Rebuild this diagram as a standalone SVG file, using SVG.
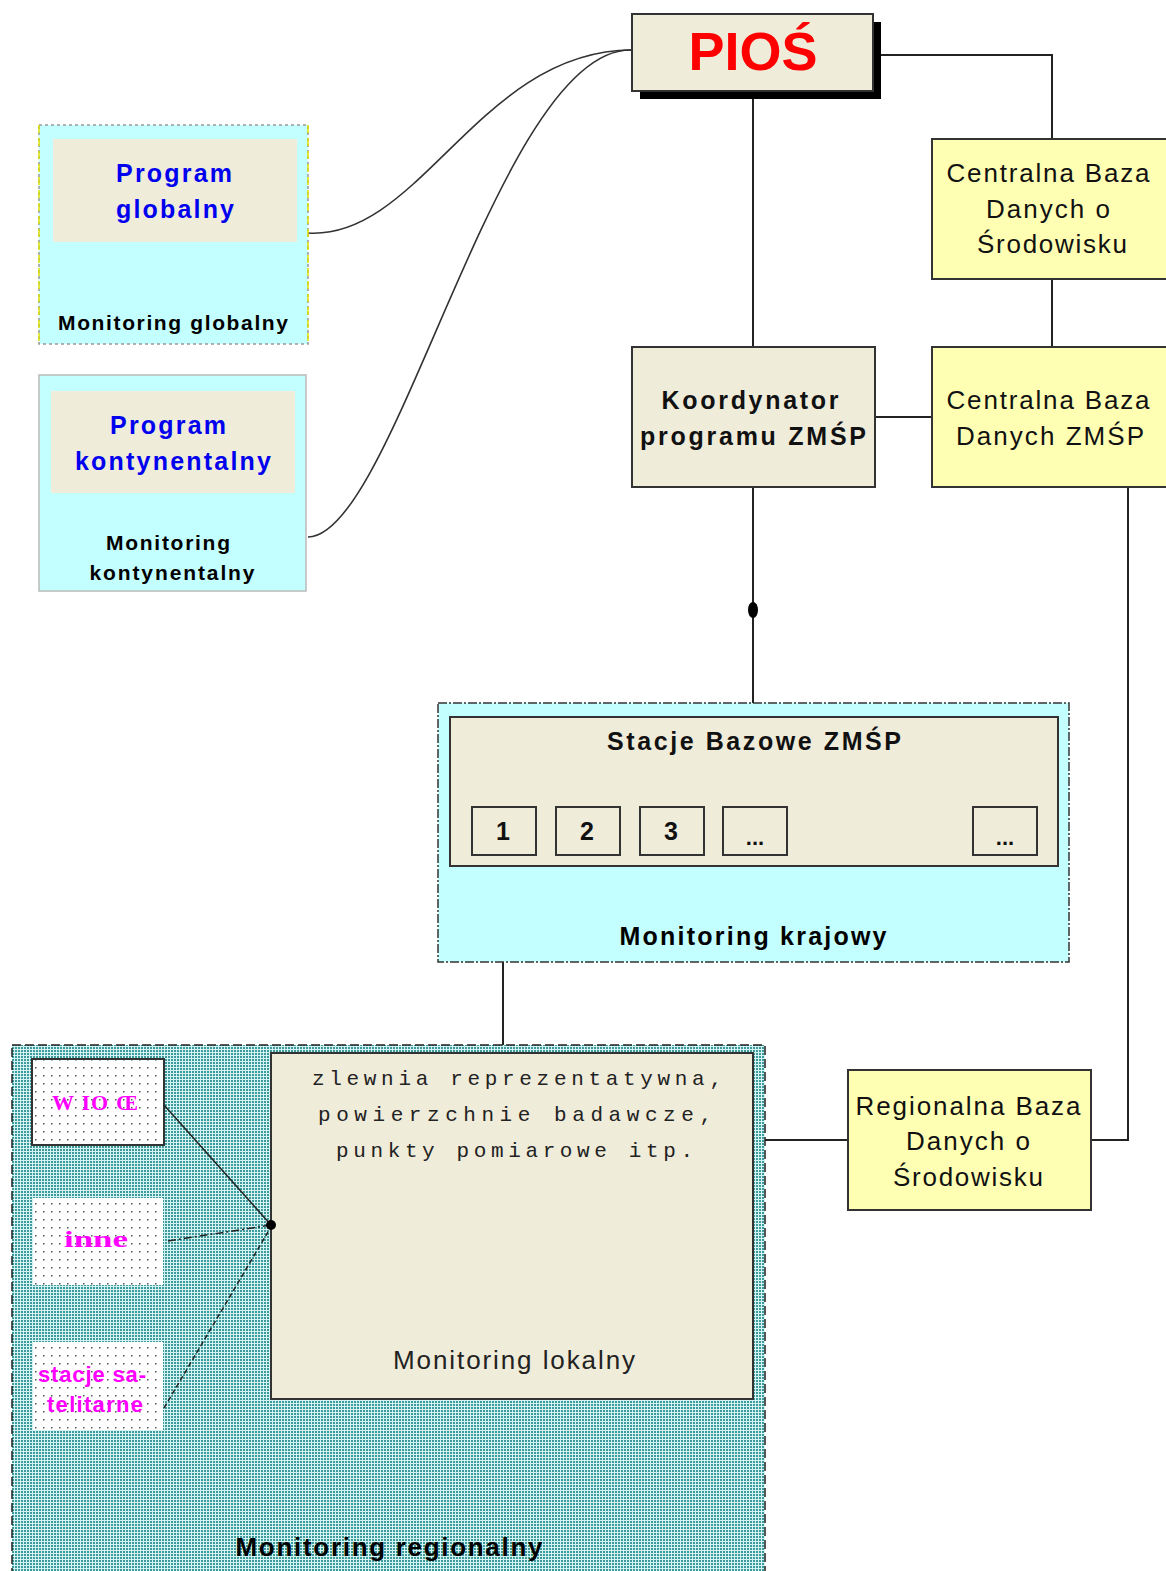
<svg xmlns="http://www.w3.org/2000/svg" width="1166" height="1571" viewBox="0 0 1166 1571">
<defs>
<pattern id="teal" width="3" height="3" patternUnits="userSpaceOnUse">
<rect width="3" height="3" fill="#d4f4f4"/>
<rect x="0" y="0" width="2" height="2" fill="#3e9a9a"/>
</pattern>
<pattern id="dots" width="8" height="8" patternUnits="userSpaceOnUse">
<rect width="8" height="8" fill="#ffffff"/>
<rect x="3" y="3" width="1.5" height="1.5" fill="#555"/>
</pattern>
</defs>
<style>
.sans{font-family:"Liberation Sans",Arial,sans-serif}
.b{font-weight:bold}
.box{stroke:#333;stroke-width:2}
.beige{fill:#efecda}
.yel{fill:#ffffb4}
.cyan{fill:#c4ffff}
.c{text-anchor:middle}
.ln{fill:none;stroke:#222;stroke-width:2}
.blue{fill:#0000ee}
.mag{fill:#ff00ff}
</style>

<g id="connectors">
<path class="ln" d="M873,55 H1052 V139"/>
<path class="ln" d="M753,91 V347"/>
<path class="ln" d="M1052,279 V347"/>
<path class="ln" d="M875,417 H932"/>
<path class="ln" d="M753,487 V717"/>
<ellipse cx="753" cy="610" rx="5" ry="8" fill="#000"/>
<path class="ln" d="M1128,487 V1140 H1091"/>
<path class="ln" d="M848,1140 H753"/>
<path class="ln" d="M503,866 V1053"/>
<path d="M308,233 C420,240 480,50 632,50" fill="none" stroke="#333" stroke-width="1.6"/>
<path d="M308,537 C395,537 500,45 632,50" fill="none" stroke="#333" stroke-width="1.6"/>
</g>

<g id="pios">
<rect x="640" y="22" width="241" height="77" fill="#000"/>
<rect x="632" y="14" width="241" height="77" class="beige box"/>
<text x="753" y="70" class="sans b c" font-size="54" fill="#ff0000">PIOŚ</text>
</g>

<g id="cbdos">
<rect x="932" y="139" width="240" height="140" class="yel box"/>
<text class="sans c" font-size="26" fill="#111"><tspan x="1048" y="182" textLength="203" lengthAdjust="spacing">Centralna Baza</tspan><tspan x="1048" y="218" textLength="124" lengthAdjust="spacing">Danych o</tspan><tspan x="1052" y="253" textLength="150" lengthAdjust="spacing">Środowisku</tspan></text>
</g>

<g id="cbdzmsp">
<rect x="932" y="347" width="240" height="140" class="yel box"/>
<text class="sans c" font-size="26" fill="#111"><tspan x="1048" y="409" textLength="203" lengthAdjust="spacing">Centralna Baza</tspan><tspan x="1050" y="445" textLength="188" lengthAdjust="spacing">Danych ZMŚP</tspan></text>
</g>

<g id="koordynator">
<rect x="632" y="347" width="243" height="140" class="beige box"/>
<text class="sans b c" font-size="25" fill="#111"><tspan x="750" y="409" textLength="177" lengthAdjust="spacing">Koordynator</tspan><tspan x="753" y="445" textLength="226" lengthAdjust="spacing">programu ZMŚP</tspan></text>
</g>

<g id="globalny">
<rect x="39" y="125" width="269" height="219" class="cyan" stroke="#999" stroke-width="1.5" stroke-dasharray="3,3"/>
<path d="M39,125 V344 M308,125 V344" stroke="#e0e000" stroke-width="1.5" stroke-dasharray="8,5" fill="none"/>
<rect x="53" y="139" width="244" height="103" class="beige"/>
<text class="sans b c blue" font-size="25"><tspan x="174" y="182" textLength="116" lengthAdjust="spacing">Program</tspan><tspan x="175" y="218" textLength="118" lengthAdjust="spacing">globalny</tspan></text>
<text x="173" y="330" class="sans b c" font-size="21" fill="#000" textLength="230" lengthAdjust="spacing">Monitoring globalny</text>
</g>

<g id="kontynentalny">
<rect x="39" y="375" width="267" height="216" class="cyan" stroke="#bbb" stroke-width="1.5"/>
<rect x="51" y="391" width="244" height="102" class="beige"/>
<text class="sans b c blue" font-size="25"><tspan x="168" y="434" textLength="116" lengthAdjust="spacing">Program</tspan><tspan x="173" y="470" textLength="196" lengthAdjust="spacing">kontynentalny</tspan></text>
<text class="sans b c" font-size="21" fill="#000"><tspan x="168" y="550" textLength="124" lengthAdjust="spacing">Monitoring</tspan><tspan x="172" y="580" textLength="165" lengthAdjust="spacing">kontynentalny</tspan></text>
</g>

<g id="krajowy">
<rect x="438" y="703" width="631" height="259" class="cyan" stroke="#333" stroke-width="1.5" stroke-dasharray="9,2,2,2"/>
<text x="753" y="945" class="sans b c" font-size="25" fill="#000" textLength="267" lengthAdjust="spacing">Monitoring krajowy</text>
</g>

<g id="stacje">
<rect x="450" y="717" width="608" height="149" class="beige box"/>
<text x="754" y="750" class="sans b c" font-size="25" fill="#111" textLength="294" lengthAdjust="spacing">Stacje Bazowe ZMŚP</text>
<rect x="472" y="807" width="64" height="48" class="beige box"/>
<text x="503" y="840" class="sans b c" font-size="25" fill="#111">1</text>
<rect x="556" y="807" width="64" height="48" class="beige box"/>
<text x="587" y="840" class="sans b c" font-size="25" fill="#111">2</text>
<rect x="640" y="807" width="64" height="48" class="beige box"/>
<text x="671" y="840" class="sans b c" font-size="25" fill="#111">3</text>
<rect x="723" y="807" width="64" height="48" class="beige box"/>
<text x="755" y="845" class="sans b c" font-size="22" fill="#111">...</text>
<rect x="973" y="807" width="64" height="48" class="beige box"/>
<text x="1005" y="845" class="sans b c" font-size="22" fill="#111">...</text>
</g>

<g id="regionalny">
<rect x="12" y="1045" width="753" height="540" fill="url(#teal)" stroke="#222" stroke-width="1.5" stroke-dasharray="9,4"/>
<text x="389" y="1556" class="sans b c" font-size="26" fill="#000" textLength="307" lengthAdjust="spacing">Monitoring regionalny</text>
</g>

<g id="lokalny">
<rect x="271" y="1053" width="482" height="346" class="beige box"/>
<text font-family="'Liberation Mono','Courier New',monospace" font-size="21" fill="#222">
<tspan x="312" y="1085" textLength="410" lengthAdjust="spacing">zlewnia reprezentatywna,</tspan>
<tspan x="318" y="1121" textLength="394" lengthAdjust="spacing">powierzchnie badawcze,</tspan>
<tspan x="336" y="1157" textLength="357" lengthAdjust="spacing">punkty pomiarowe itp.</tspan>
</text>
<text x="514" y="1369" class="sans c" font-size="26" fill="#222" textLength="242" lengthAdjust="spacing">Monitoring lokalny</text>
</g>

<g id="wios">
<rect x="32" y="1059" width="132" height="86" fill="url(#dots)" class="box"/>
<text x="95" y="1110" font-family="'Liberation Serif',serif" font-weight="bold" font-size="22" class="c mag" textLength="86" lengthAdjust="spacing">W IO Œ</text>
</g>

<g id="inne">
<rect x="33" y="1198" width="130" height="87" fill="url(#dots)"/>
<text x="96" y="1247" font-family="'Liberation Serif',serif" font-weight="bold" font-size="24" class="c mag" textLength="64" lengthAdjust="spacingAndGlyphs">inne</text>
</g>

<g id="satelitarne">
<rect x="33" y="1342" width="130" height="88" fill="url(#dots)"/>
<text class="sans b c mag" font-size="22"><tspan x="92" y="1382" textLength="108" lengthAdjust="spacing">stacje sa-</tspan><tspan x="95" y="1412" textLength="96" lengthAdjust="spacing">telitarne</tspan></text>
</g>

<g id="regbaza">
<rect x="848" y="1070" width="243" height="140" class="yel box"/>
<text class="sans c" font-size="26" fill="#111"><tspan x="968" y="1115" textLength="225" lengthAdjust="spacing">Regionalna Baza</tspan><tspan x="968" y="1150" textLength="124" lengthAdjust="spacing">Danych o</tspan><tspan x="968" y="1186" textLength="150" lengthAdjust="spacing">Środowisku</tspan></text>
</g>

<g id="local-connectors">
<path d="M164,1105 L271,1225" stroke="#222" stroke-width="1.5" fill="none"/>
<path d="M168,1241 L271,1225" stroke="#222" stroke-width="1.5" fill="none" stroke-dasharray="8,3,2,3"/>
<path d="M164,1408 L268,1232" stroke="#222" stroke-width="1.5" fill="none" stroke-dasharray="5,3"/>
<circle cx="271" cy="1225" r="5" fill="#000"/>
</g>
</svg>
